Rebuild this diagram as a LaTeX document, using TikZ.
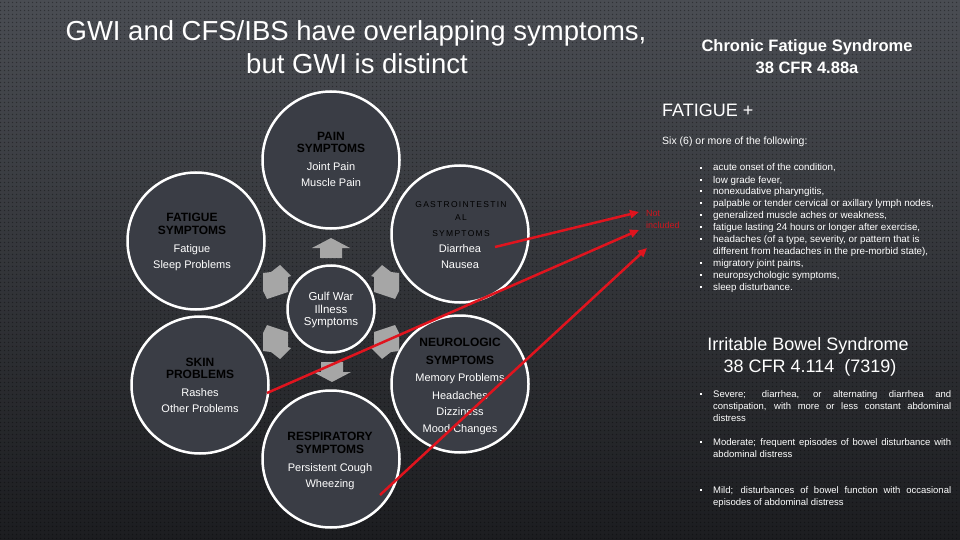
\documentclass[tikz,border=0pt]{standalone}
\usepackage{fontspec}
\setmainfont{Liberation Sans}
\usetikzlibrary{arrows.meta,patterns.meta}

\definecolor{bgtop}{HTML}{4A4D53}
\definecolor{bgbot}{HTML}{1C1D20}
\definecolor{circfill}{HTML}{3A3D45}
\definecolor{arrgray}{HTML}{A6A6A6}
\definecolor{redline}{HTML}{E0141E}
\definecolor{redtext}{HTML}{C8161E}

\tikzdeclarepattern{
  name=bgdots,
  type=uncolored,
  bottom left={(0pt,0pt)},
  top right={(4pt,4pt)},
  tile size={(4pt,4pt)},
  code={\fill (2pt,2pt) circle[radius=0.9pt];}
}

\newcommand\myblt{\llap{\rule[2.4pt]{2pt}{2pt}\hspace{11pt}}}
\newcommand\housearrow[3]{%
  \fill[arrgray,shift={(#1,#2)},rotate=#3]
    (-10,-11) -- (0,-11) -- (0,-19) -- (10,0) -- (0,19) -- (0,11) -- (-10,11) -- cycle;}
% slanted side arrow, drawn for the upper-left position relative to the hub centre (331,312)
\newcommand\sidearrow[2]{%
  \fill[arrgray,shift={(331,312)},xscale=#1,yscale=#2]
    (-51,-47) -- (-40,-36) -- (-43,-35) -- (-43,-20) -- (-64,-13) -- (-68,-21) -- (-68,-39) -- (-60,-40) -- cycle;}

\begin{document}
\begin{tikzpicture}[x=1pt,y=-1pt,
  bubble/.style={circle,draw=white,line width=2.5pt,fill=circfill,minimum size=137pt,inner sep=0pt},
  hub/.style={circle,draw=white,line width=2.5pt,fill=circfill,minimum size=87pt,inner sep=0pt},
  hd/.style={anchor=base,inner sep=0pt,text=black,font=\fontsize{12}{12}\selectfont\bfseries},
  gh/.style={anchor=base,inner sep=0pt,text=black,font=\fontsize{8.5}{8.5}\selectfont\addfontfeatures{LetterSpace=15}},
  bd/.style={anchor=base,inner sep=0pt,text=white,font=\fontsize{11}{11}\selectfont},
  hubtxt/.style={anchor=base,inner sep=0pt,text=white,font=\fontsize{11.5}{11.5}\selectfont},
  cfs/.style={anchor=base west,inner sep=0pt,text=white,font=\fontsize{9.8}{11.9}\selectfont},
  ibs/.style={anchor=base west,inner sep=0pt,text=white,font=\fontsize{9.5}{12}\selectfont},
  redarrow/.style={draw=redline,line width=2.5pt,-{Triangle[length=9pt,width=8pt]}},
  nottxt/.style={anchor=base west,inner sep=0pt,text=redtext,font=\fontsize{9}{9}\selectfont}
]
\useasboundingbox (0,0) rectangle (960,540);
\shade[top color=bgtop,bottom color=bgbot] (0,0) rectangle (960,540);
\fill[pattern=bgdots,pattern color=black,opacity=0.35] (0,0) rectangle (960,540);

% title
\node[anchor=base,inner sep=0pt,text=white,font=\fontsize{27.5}{27.5}\selectfont] (t1) at (356,41) {GWI and CFS/IBS have overlapping symptoms,};
\node[anchor=base,inner sep=0pt,text=white,font=\fontsize{27.5}{27.5}\selectfont] (t2) at (357,74) {but GWI is distinct};

% CFS header
\node[anchor=base,inner sep=0pt,text=white,font=\fontsize{16.5}{16.5}\selectfont\bfseries] (c1) at (807,51.7) {Chronic Fatigue Syndrome};
\node[anchor=base,inner sep=0pt,text=white,font=\fontsize{16.5}{16.5}\selectfont\bfseries] (c2) at (807,73.3) {38 CFR 4.88a};
\node[anchor=base west,inner sep=0pt,text=white,font=\fontsize{18}{18}\selectfont] (fplus) at (662,116.7) {FATIGUE +};
\node[anchor=base west,inner sep=0pt,text=white,font=\fontsize{10.5}{10.5}\selectfont] (six) at (662,145) {Six (6) or more of the following:};

\node[cfs] (l1) at (713,171) {\myblt acute onset of the condition,};
\node[cfs] (l2) at (713,183) {\myblt low grade fever,};
\node[cfs] (l3) at (713,194.5) {\myblt nonexudative pharyngitis,};
\node[cfs] (l4) at (713,206.5) {\myblt palpable or tender cervical or axillary lymph nodes,};
\node[cfs] (l5) at (713,218.3) {\myblt generalized muscle aches or weakness,};
\node[cfs] (l6) at (713,230.2) {\myblt fatigue lasting 24 hours or longer after exercise,};
\node[cfs] (l7) at (713,242.3) {\myblt headaches (of a type, severity, or pattern that is};
\node[cfs] (l8) at (713,254.3) {different from headaches in the pre-morbid state),};
\node[cfs] (l9) at (713,266.3) {\myblt migratory joint pains,};
\node[cfs] (l10) at (713,278.2) {\myblt neuropsychologic symptoms,};
\node[cfs] (l11) at (713,290) {\myblt sleep disturbance.};

% IBS
\node[anchor=base,inner sep=0pt,text=white,font=\fontsize{18}{18}\selectfont] (i1) at (808,350) {Irritable Bowel Syndrome};
\node[anchor=base,inner sep=0pt,text=white,font=\fontsize{18}{18}\selectfont] (i2) at (810,372) {38 CFR 4.114\ \ (7319)};
\node[ibs] (b1a) at (713,397) {\myblt\makebox[238pt][s]{Severe; diarrhea, or alternating diarrhea and}};
\node[ibs] (b1b) at (713,409) {\makebox[238pt][s]{constipation, with more or less constant abdominal}};
\node[ibs] (b1c) at (713,421) {distress};
\node[ibs] (b2a) at (713,445) {\myblt\makebox[238pt][s]{Moderate; frequent episodes of bowel disturbance with}};
\node[ibs] (b2b) at (713,457) {abdominal distress};
\node[ibs] (b3a) at (713,493) {\myblt\makebox[238pt][s]{Mild; disturbances of bowel function with occasional}};
\node[ibs] (b3b) at (713,505) {episodes of abdominal distress};

% circles
\node[bubble] (pain) at (331,160) {};
\node[bubble] (fat) at (196,241) {};
\node[bubble] (gas) at (460,234) {};
\node[bubble] (skin) at (200,385) {};
\node[bubble] (neu) at (460,384) {};
\node[bubble] (resp) at (331,459) {};
\node[hub] (gwi) at (331,309) {};

% block arrows
\housearrow{331}{248}{90}
\housearrow{332}{372}{270}
\sidearrow{1}{1}
\sidearrow{-1}{1}
\sidearrow{1}{-1}
\sidearrow{-1}{-1}

% circle texts
\node[hubtxt] (g1) at (331,300.7) {Gulf War};
\node[hubtxt] (g2) at (331,313.3) {Illness};
\node[hubtxt] (g3) at (331,325.7) {Symptoms};

\node[hd] (p1) at (331,140.7) {PAIN};
\node[hd] (p2) at (331,152.7) {SYMPTOMS};
\node[bd] (p3) at (331,171) {Joint Pain};
\node[bd] (p4) at (331,186.7) {Muscle Pain};

\node[hd] (f1) at (192,221.7) {FATIGUE};
\node[hd] (f2) at (192,234.3) {SYMPTOMS};
\node[bd] (f3) at (192,252.3) {Fatigue};
\node[bd] (f4) at (192,268.3) {Sleep Problems};

\node[gh] (gi1) at (461,207.7) {GASTROINTESTIN};
\node[gh] (gi2) at (461,220) {AL};
\node[gh] (gi3) at (461,236) {SYMPTOMS};
\node[bd] (gi4) at (460,252.3) {Diarrhea};
\node[bd] (gi5) at (460,268.3) {Nausea};

\node[hd] (s1) at (200,366) {SKIN};
\node[hd] (s2) at (200,378.7) {PROBLEMS};
\node[bd] (s3) at (200,396) {Rashes};
\node[bd] (s4) at (200,412) {Other Problems};

\node[hd] (n1) at (460,346.7) {NEUROLOGIC};
\node[hd] (n2) at (460,364.3) {SYMPTOMS};
\node[bd] (n3) at (460,381.7) {Memory Problems};
\node[bd] (n4) at (460,399) {Headaches};
\node[bd] (n5) at (460,415) {Dizziness};
\node[bd] (n6) at (460,432.3) {Mood Changes};

\node[hd] (r1) at (330,440.7) {RESPIRATORY};
\node[hd] (r2) at (330,453.3) {SYMPTOMS};
\node[bd] (r3) at (330,471) {Persistent Cough};
\node[bd] (r4) at (330,487) {Wheezing};

% not included
\node[nottxt] (ni1) at (646,216.7) {Not};
\node[nottxt] (ni2) at (646,228.3) {included};

\coordinate (gs) at (495,247);
\coordinate (ge) at (639,212);
\coordinate (ss) at (267,393);
\coordinate (se) at (639,230);
\coordinate (rs) at (380,495);
\coordinate (re) at (647,248);
\draw[redarrow] (gs) -- (ge);
\draw[redarrow] (ss) -- (se);
\draw[redarrow] (rs) -- (re);
\end{tikzpicture}
\end{document}
